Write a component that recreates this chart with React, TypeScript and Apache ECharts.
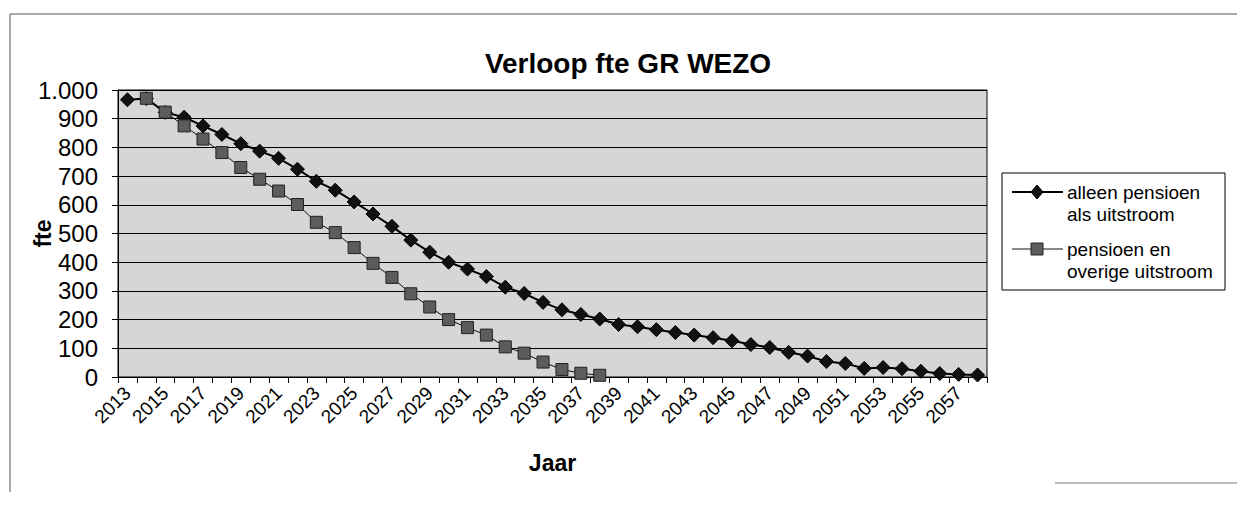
import React, { useEffect, useRef } from "react";
import * as echarts from "echarts";

const years: string[] = [
  "2013", "2014", "2015", "2016", "2017", "2018", "2019", "2020", "2021", "2022",
  "2023", "2024", "2025", "2026", "2027", "2028", "2029", "2030", "2031", "2032",
  "2033", "2034", "2035", "2036", "2037", "2038", "2039", "2040", "2041", "2042",
  "2043", "2044", "2045", "2046", "2047", "2048", "2049", "2050", "2051", "2052",
  "2053", "2054", "2055", "2056", "2057", "2058",
];

const alleenPensioen: (number | null)[] = [
  966, 970, 922, 905, 875, 845, 813, 787, 762, 724,
  682, 651, 610, 568, 525, 477, 435, 400, 376, 350,
  313, 291, 260, 234, 218, 202, 183, 175, 165, 155,
  146, 137, 126, 113, 103, 86, 73, 54, 47, 30,
  33, 29, 20, 12, 9, 7,
];

const pensioenOverig: (number | null)[] = [
  null, 971, 923, 875, 829, 782, 730, 689, 648, 601,
  539, 503, 451, 396, 347, 290, 244, 200, 172, 146,
  105, 83, 52, 26, 13, 6, null, null, null, null,
  null, null, null, null, null, null, null, null, null, null,
  null, null, null, null, null, null,
];

const seriesNames: string[] = ["alleen pensioen als uitstroom", "pensioen en overige uitstroom"];
const legendLabels: string[] = ["alleen pensioen\nals uitstroom", "pensioen en\noverige uitstroom"];
const titleText = "Verloop fte GR WEZO";
const xAxisName = "Jaar";
const yAxisName = "fte";

const FONT = "'Liberation Sans', Arial, sans-serif";

function fmtThousands(v: number): string {
  const s = String(Math.round(v));
  return s.replace(/\B(?=(\d{3})+(?!\d))/g, ".");
}

export default function App() {
  const ref = useRef<HTMLDivElement>(null);

  useEffect(() => {
    if (!ref.current) return;
    const chart = echarts.init(ref.current, undefined, { renderer: "svg" });

    const lx = 1012;
    const lmid = 1037;
    const ly1 = 192;
    const ly2 = 249;

    chart.setOption({
      animation: false,
      backgroundColor: "#ffffff",
      textStyle: { fontFamily: FONT },
      title: {
        text: titleText,
        left: 623,
        textAlign: "center",
        top: 44,
        textStyle: { fontFamily: FONT, fontSize: 28, fontWeight: "bold", color: "#000" },
      },
      grid: {
        left: 118,
        right: 250,
        top: 90,
        bottom: 129,
        show: true,
        backgroundColor: "#d6d6d6",
        borderColor: "#000",
        borderWidth: 1,
      },
      xAxis: {
        type: "category",
        data: years,
        boundaryGap: true,
        name: xAxisName,
        nameLocation: "middle",
        nameGap: 74,
        nameMoveOverlap: false,
        nameTextStyle: { fontFamily: FONT, fontSize: 23, fontWeight: "bold", color: "#000" },
        axisLine: { show: true, lineStyle: { color: "#000", width: 1 } },
        axisTick: { show: true, interval: 0, length: 6, lineStyle: { color: "#000" } },
        axisLabel: {
          interval: 1,
          rotate: 45,
          margin: 13,
          fontFamily: FONT,
          fontSize: 19,
          color: "#000",
        },
        splitLine: { show: false },
      },
      yAxis: {
        type: "value",
        min: 0,
        max: 1000,
        interval: 100,
        name: yAxisName,
        nameLocation: "middle",
        nameRotate: 90,
        nameGap: 64,
        nameMoveOverlap: false,
        nameTextStyle: { fontFamily: FONT, fontSize: 23, fontWeight: "bold", color: "#000" },
        axisLine: { show: true, lineStyle: { color: "#000", width: 1 } },
        axisTick: { show: true, length: 6, lineStyle: { color: "#000" } },
        axisLabel: {
          margin: 20,
          fontFamily: FONT,
          fontSize: 24,
          color: "#000",
          formatter: (v: number) => fmtThousands(v),
        },
        splitLine: { show: true, lineStyle: { color: "#000", width: 1 } },
      },
      series: [
        {
          name: seriesNames[0],
          type: "line",
          data: alleenPensioen,
          symbol: "diamond",
          symbolSize: 14,
          showAllSymbol: true,
          lineStyle: { color: "#000", width: 2 },
          itemStyle: { color: "#111", borderColor: "#000", borderWidth: 1 },
          z: 2,
        },
        {
          name: seriesNames[1],
          type: "line",
          data: pensioenOverig,
          symbol: "rect",
          symbolSize: 12,
          showAllSymbol: true,
          lineStyle: { color: "#111", width: 1 },
          itemStyle: { color: "#5c5c5c", borderColor: "#222", borderWidth: 1 },
          z: 3,
        },
      ],
      graphic: [
        { type: "line", shape: { x1: 10, y1: 14, x2: 1237, y2: 14 }, style: { stroke: "#555", lineWidth: 1 } },
        { type: "line", shape: { x1: 10, y1: 14, x2: 10, y2: 492 }, style: { stroke: "#555", lineWidth: 1 } },
        { type: "line", shape: { x1: 1055, y1: 483, x2: 1237, y2: 483 }, style: { stroke: "#777", lineWidth: 1 } },
        {
          type: "rect",
          shape: { x: 1002, y: 173, width: 223, height: 117 },
          style: { fill: "#fff", stroke: "#000", lineWidth: 1 },
        },
        { type: "line", shape: { x1: lx, y1: ly1, x2: lx + 51, y2: ly1 }, style: { stroke: "#000", lineWidth: 2 } },
        {
          type: "polygon",
          shape: { points: [[lmid, ly1 - 7], [lmid + 6, ly1], [lmid, ly1 + 7], [lmid - 6, ly1]] },
          style: { fill: "#111", stroke: "#000", lineWidth: 1 },
        },
        {
          type: "text",
          x: 1067,
          y: ly1 - 11,
          style: { text: legendLabels[0], font: `19px ${FONT}`, fill: "#000", lineHeight: 22, verticalAlign: "top" },
        },
        { type: "line", shape: { x1: lx, y1: ly2, x2: lx + 51, y2: ly2 }, style: { stroke: "#111", lineWidth: 1 } },
        {
          type: "rect",
          shape: { x: lmid - 6, y: ly2 - 6, width: 12, height: 12 },
          style: { fill: "#5c5c5c", stroke: "#222", lineWidth: 1 },
        },
        {
          type: "text",
          x: 1067,
          y: ly2 - 11,
          style: { text: legendLabels[1], font: `19px ${FONT}`, fill: "#000", lineHeight: 22, verticalAlign: "top" },
        },
      ],
    });

    return () => {
      chart.dispose();
    };
  }, []);

  return (
    <div
      ref={ref}
      style={{ position: "fixed", left: 0, top: 0, width: 1237, height: 506, background: "#fff" }}
    />
  );
}
